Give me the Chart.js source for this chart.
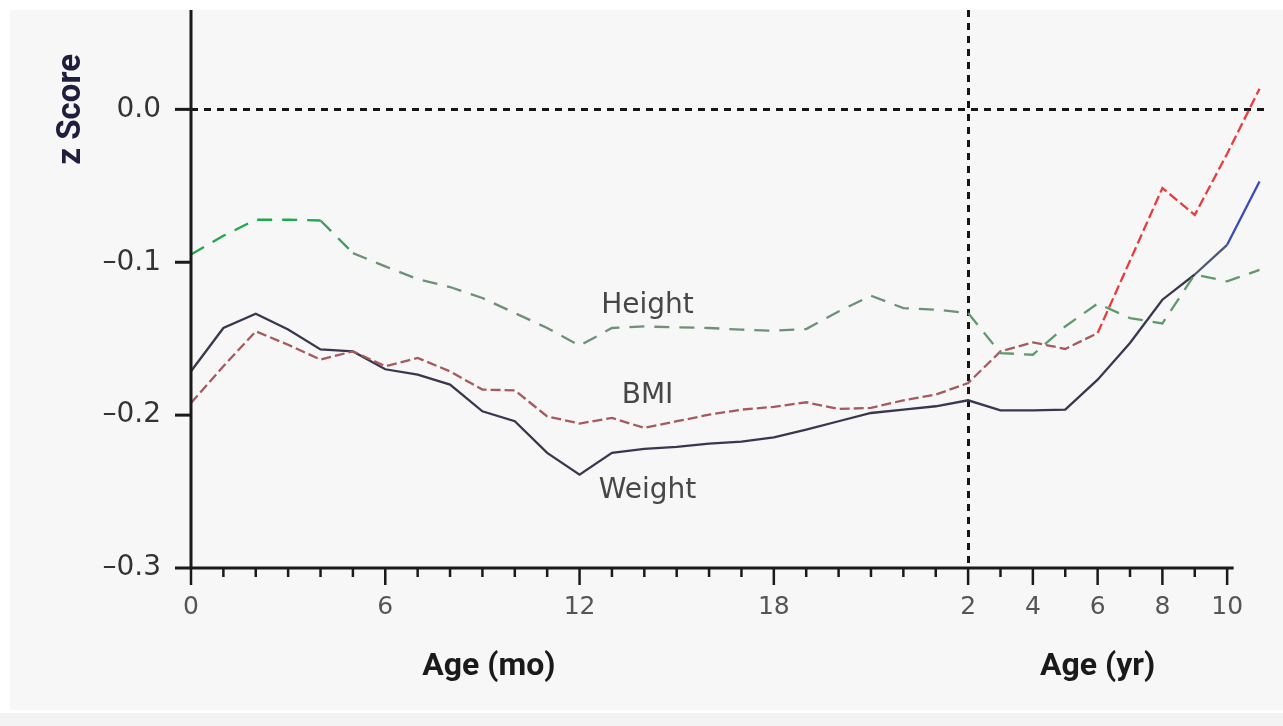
<!DOCTYPE html>
<html>
<head>
<meta charset="utf-8">
<title>z Score by Age</title>
<script src="https://cdn.jsdelivr.net/npm/chart.js@4/dist/chart.umd.min.js"></script>
<style>
  html, body { margin: 0; padding: 0; background: #ffffff; }
  #wrap { width: 1283px; height: 726px; position: relative; }
  canvas { display: block; }
</style>
</head>
<body>
<div id="wrap"><canvas id="chart" width="1283" height="726"></canvas></div>
<script>
// Ages: monthly readings up to 24 months, then yearly readings
const monthAges = [0, 1, 2, 3, 4, 5, 6, 7, 8, 9, 10, 11, 12, 13, 14, 15, 16, 17, 18, 19, 20, 21, 22, 23, 24];
const yearAges = [3, 4, 5, 6, 7, 8, 9, 10, 11];

// Mean z scores, first by month (0-24 mo), then by year (3-11 yr)
const weightByMonth = [-0.1713, -0.143, -0.1337, -0.144, -0.157, -0.1583, -0.170, -0.1735, -0.180, -0.1975, -0.204, -0.2247, -0.2389,
                       -0.2247, -0.2221, -0.2208, -0.2186, -0.2173, -0.2145, -0.2095, -0.204, -0.1986, -0.1964, -0.1942, -0.1903];
const weightByYear = [-0.1969, -0.1969, -0.1964, -0.1768, -0.1528, -0.1245, -0.108, -0.0886, -0.0472];

const bmiByMonth = [-0.192, -0.168, -0.1452, -0.154, -0.1637, -0.1583, -0.168, -0.1626, -0.1714, -0.1833, -0.1838, -0.2008, -0.2055,
                    -0.2018, -0.2084, -0.204, -0.1997, -0.1964, -0.1946, -0.1916, -0.196, -0.1953, -0.1903, -0.1866, -0.179];
const bmiByYear = [-0.1583, -0.1524, -0.1567, -0.1463, -0.099, -0.0515, -0.069, -0.029, 0.0135];

const heightByMonth = [-0.095, -0.0827, -0.0722, -0.0722, -0.0727, -0.094, -0.1027, -0.111, -0.1162, -0.1234, -0.1332, -0.143, -0.1546,
                       -0.143, -0.142, -0.1426, -0.143, -0.1441, -0.1448, -0.1437, -0.1322, -0.1219, -0.130, -0.131, -0.1332];
const heightByYear = [-0.1594, -0.1605, -0.142, -0.127, -0.1365, -0.140, -0.108, -0.1125, -0.105];

// Axis ticks
const monthTickValues = [0, 6, 12, 18];
const yearTickValues = [2, 4, 6, 8, 10];
const yTickValues = [-0.3, -0.2, -0.1, 0.0];
const yTickLabels = ['\u20130.3', '\u20130.2', '\u20130.1', '0.0'];

// The horizontal axis runs in months up to 2 years, then one unit per year
const MONTHS_SPAN = 24;
function monthPos(m) { return m; }
function yearPos(y) { return MONTHS_SPAN + (y - 2); }

function series(byMonth, byYear) {
  return monthAges.map((m, i) => ({ x: monthPos(m), y: byMonth[i] }))
    .concat(yearAges.map((y, i) => ({ x: yearPos(y), y: byYear[i] })));
}

const majorTicks = monthTickValues.map(monthPos).concat(yearTickValues.map(yearPos));
const majorLabels = monthTickValues.map(String).concat(yearTickValues.map(String));
const lastTick = yearPos(yearTickValues[yearTickValues.length - 1]);

const INK = '#1a1a1a';

const decorations = {
  id: 'decorations',
  beforeDraw(chart) {
    const ctx = chart.ctx;
    ctx.save();
    ctx.fillStyle = '#ffffff';
    ctx.fillRect(0, 0, chart.width, chart.height);
    ctx.fillStyle = '#f7f7f7';
    ctx.fillRect(10, 10, chart.width - 10, 700);
    ctx.fillStyle = '#f3f3f3';
    ctx.fillRect(0, 713, chart.width, chart.height - 713);
    ctx.restore();
  },
  beforeDatasetsDraw(chart) {
    const { ctx, chartArea: a, scales: { x, y } } = chart;
    ctx.save();
    ctx.strokeStyle = '#161616';
    ctx.lineWidth = 3;
    ctx.setLineDash([7, 6]);
    // zero reference line
    const y0 = Math.round(y.getPixelForValue(0)) + 0.5;
    ctx.beginPath();
    ctx.moveTo(a.left, y0);
    ctx.lineTo(a.right + 2, y0);
    ctx.stroke();
    // boundary between the monthly and yearly parts
    const xb = Math.round(x.getPixelForValue(MONTHS_SPAN)) + 0.5;
    ctx.beginPath();
    ctx.moveTo(xb, a.top);
    ctx.lineTo(xb, a.bottom);
    ctx.stroke();
    ctx.restore();
  },
  afterDatasetsDraw(chart) {
    const { ctx, chartArea: a, scales: { x, y } } = chart;
    ctx.save();
    ctx.strokeStyle = INK;
    ctx.setLineDash([]);
    // axis lines
    ctx.lineWidth = 3;
    ctx.beginPath();
    ctx.moveTo(a.left, a.top);
    ctx.lineTo(a.left, a.bottom + 1.5);
    ctx.moveTo(a.left - 1.5, a.bottom);
    ctx.lineTo(x.getPixelForValue(lastTick + 0.2), a.bottom);
    ctx.stroke();
    // x tick marks: one per month, then one per year
    ctx.lineWidth = 2.5;
    for (let v = 0; v <= lastTick; v++) {
      const px = x.getPixelForValue(v);
      const len = majorTicks.includes(v) ? 17 : 9;
      ctx.beginPath();
      ctx.moveTo(px, a.bottom);
      ctx.lineTo(px, a.bottom + len);
      ctx.stroke();
    }
    // y tick marks
    ctx.lineWidth = 3;
    yTickValues.forEach(v => {
      const py = y.getPixelForValue(v);
      ctx.beginPath();
      ctx.moveTo(a.left - 16, py);
      ctx.lineTo(a.left, py);
      ctx.stroke();
    });

    // axis titles
    ctx.fillStyle = INK;
    ctx.font = 'bold 32px Roboto';
    ctx.textAlign = 'center';
    ctx.textBaseline = 'alphabetic';
    ctx.fillText('Age (mo)', x.getPixelForValue(monthPos(9.2)), 675);
    ctx.fillText('Age (yr)', x.getPixelForValue(yearPos(6)), 675);

    ctx.save();
    ctx.translate(80, y.getPixelForValue(0));
    ctx.rotate(-Math.PI / 2);
    ctx.fillStyle = '#1e1f3c';
    ctx.font = 'bold 33px Roboto';
    ctx.fillText('z Score', 0, 0);
    ctx.restore();

    // series names beside their curves
    ctx.fillStyle = '#474747';
    ctx.font = '28px "DejaVu Sans"';
    const cx = x.getPixelForValue(monthPos(14.1));
    ctx.fillText('Height', cx, y.getPixelForValue(-0.133));
    ctx.fillText('BMI', cx, y.getPixelForValue(-0.1918));
    ctx.fillText('Weight', cx, y.getPixelForValue(-0.2539));
    ctx.restore();
  }
};

function byX(ctx, rules, fallback) {
  const x0 = ctx.p0.parsed.x;
  for (const [limit, color] of rules) if (x0 < limit) return color;
  return fallback;
}

new Chart(document.getElementById('chart'), {
  type: 'line',
  data: {
    datasets: [
      {
        label: 'Height',
        data: series(heightByMonth, heightByYear),
        borderWidth: 2.3,
        borderDash: [15, 10],
        borderColor: '#6b9276',
        segment: { borderColor: c => byX(c, [[4, '#1fa84d'], [5, '#3f9c5e'], [24, '#6b9276']], '#5e9a6c') }
      },
      {
        label: 'BMI',
        data: series(bmiByMonth, bmiByYear),
        borderWidth: 2.3,
        borderDash: [10, 4],
        borderColor: '#a65a5c',
        segment: { borderColor: c => byX(c, [[28, '#a65a5c']], '#ea3b3d') }
      },
      {
        label: 'Weight',
        data: series(weightByMonth, weightByYear),
        borderWidth: 2.3,
        borderColor: '#37374f',
        segment: { borderColor: c => byX(c, [[31, '#37374f'], [32, '#4a5874']], '#3b4cb8') }
      }
    ]
  },
  options: {
    responsive: false,
    animation: false,
    devicePixelRatio: 1,
    events: [],
    layout: { padding: { top: 10, right: 17, left: 0, bottom: 0 } },
    elements: { point: { radius: 0 }, line: { tension: 0, borderCapStyle: 'butt' } },
    plugins: { legend: { display: false }, tooltip: { enabled: false } },
    scales: {
      x: {
        type: 'linear',
        min: 0,
        max: yearPos(11.2),
        grid: { display: false },
        border: { display: false },
        afterBuildTicks: s => { s.ticks = majorTicks.map(v => ({ value: v })); },
        afterFit: s => { s.height = 158; s.paddingLeft = 0; s.paddingRight = 0; },
        ticks: {
          autoSkip: false,
          maxRotation: 0,
          padding: 16,
          color: '#555555',
          font: { family: 'DejaVu Sans', size: 25 },
          callback: v => majorLabels[majorTicks.indexOf(v)]
        }
      },
      y: {
        type: 'linear',
        min: -0.3,
        max: 0.065,
        grid: { display: false },
        border: { display: false },
        afterBuildTicks: s => { s.ticks = yTickValues.map(v => ({ value: v })); },
        afterFit: s => { s.width = 191; s.paddingTop = 0; s.paddingBottom = 0; },
        ticks: {
          padding: 22,
          color: '#333333',
          font: { family: 'DejaVu Sans', size: 28 },
          callback: v => yTickLabels[yTickValues.findIndex(t => Math.abs(t - v) < 1e-9)]
        }
      }
    }
  },
  plugins: [decorations]
});
</script>
</body>
</html>
